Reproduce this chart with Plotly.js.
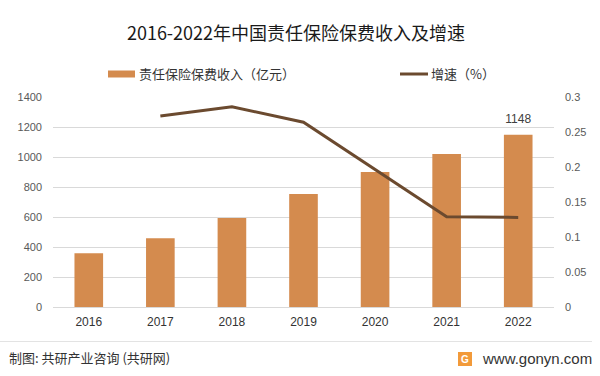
<!DOCTYPE html>
<html>
<head>
<meta charset="utf-8">
<script src="https://cdn.plot.ly/plotly-3.0.1.min.js"></script>
<style>
html,body{margin:0;padding:0;background:#fff;}
#chart{width:600px;height:376px;}
</style>
</head>
<body>
<div id="chart"></div>
<script>
// ---- data ----
const years = ['2016', '2017', '2018', '2019', '2020', '2021', '2022'];
const premium = [359, 459, 593, 753, 900, 1020, 1148];
const growthYears = ['2017', '2018', '2019', '2020', '2021', '2022'];
const growth = [0.273, 0.286, 0.264, 0.197, 0.129, 0.128];
const leftTicks = [0, 200, 400, 600, 800, 1000, 1200, 1400];
const rightTicks = [0, 0.05, 0.1, 0.15, 0.2, 0.25, 0.3];
const rightTickText = ['0', '0.05', '0.1', '0.15', '0.2', '0.25', '0.3'];
const barName = '责任保险保费收入（亿元）';
const lineName = '增速（%）';
const titleText = '2016-2022年中国责任保险保费收入及增速';
const sourceText = '制图: 共研产业咨询 (共研网)';
const siteText = 'www.gonyn.com';

// ---- layout helpers (pixel -> paper) ----
const W = 600, H = 376;
const M = {l: 53, r: 46, t: 97, b: 69};
const PW = W - M.l - M.r, PH = H - M.t - M.b;
const px = x => (x - M.l) / PW;
const py = y => (H - M.b - y) / PH;

const barColor = '#D48B4E';
const lineColor = '#6B4A2F';
const cjk = '"Noto Sans CJK SC", "Noto Sans", sans-serif';
const num = '"Liberation Sans", Arial, sans-serif';

const lastIdx = premium.length - 1;

const traces = [
  {
    type: 'bar', x: years, y: premium, name: barName,
    marker: {color: barColor},
    hoverinfo: 'skip', showlegend: false
  },
  {
    type: 'scatter', mode: 'lines', x: growthYears, y: growth, name: lineName,
    yaxis: 'y2', line: {color: lineColor, width: 3},
    hoverinfo: 'skip', showlegend: false
  },
  {
    type: 'scatter', mode: 'markers+text', x: [years[lastIdx]], y: [premium[lastIdx]],
    text: [String(premium[lastIdx])], textposition: 'top center',
    marker: {size: 12, opacity: 0}, cliponaxis: false,
    textfont: {family: num, size: 12, color: '#404040'},
    hoverinfo: 'skip', showlegend: false
  }
];

const layout = {
  width: W, height: H,
  margin: M,
  paper_bgcolor: '#fff', plot_bgcolor: '#fff',
  bargap: 0.6,
  title: {
    text: titleText, x: 296 / W, xanchor: 'center',
    y: 1 - 34 / H, yanchor: 'middle', yref: 'container',
    font: {family: cjk, size: 18, color: '#1a1a1a', weight: 400}
  },
  xaxis: {
    type: 'category', showgrid: false, zeroline: false, showline: false,
    ticks: '', tickfont: {family: num, size: 12, color: '#333'},
    ticklabelstandoff: 6
  },
  yaxis: {
    range: [0, 1400], tickvals: leftTicks, showgrid: true, gridcolor: '#D9D9D9', gridwidth: 1,
    zeroline: true, zerolinecolor: '#D9D9D9', zerolinewidth: 1, showline: false,
    ticks: '', tickfont: {family: num, size: 11, color: '#595959'}, ticklabelstandoff: 10
  },
  yaxis2: {
    overlaying: 'y', side: 'right', range: [0, 0.3], tickvals: rightTicks, ticktext: rightTickText,
    showgrid: false, zeroline: false, showline: false, ticks: '',
    tickfont: {family: num, size: 11, color: '#595959'}, ticklabelstandoff: 10
  },
  shapes: [
    {type: 'rect', xref: 'paper', yref: 'paper', x0: px(108), x1: px(135), y0: py(77.5), y1: py(70.5),
     fillcolor: barColor, line: {width: 0}},
    {type: 'line', xref: 'paper', yref: 'paper', x0: px(400), x1: px(428), y0: py(74), y1: py(74),
     line: {color: lineColor, width: 3}},
    {type: 'line', xref: 'paper', yref: 'paper', x0: px(0), x1: px(592), y0: py(341.5), y1: py(341.5),
     line: {color: '#E3E3E3', width: 1}},
    {type: 'rect', xref: 'paper', yref: 'paper', x0: px(458), x1: px(472), y0: py(366), y1: py(352),
     fillcolor: '#F29A3A', line: {width: 0}}
  ],
  annotations: [
    {xref: 'paper', yref: 'paper', x: px(137), y: py(74), xanchor: 'left', yanchor: 'middle',
     text: barName, showarrow: false, font: {family: cjk, size: 13, color: '#333'}},
    {xref: 'paper', yref: 'paper', x: px(429), y: py(74), xanchor: 'left', yanchor: 'middle',
     text: lineName, showarrow: false, font: {family: cjk, size: 13, color: '#333'}},
    {xref: 'paper', yref: 'paper', x: px(7), y: py(357), xanchor: 'left', yanchor: 'middle',
     text: sourceText, showarrow: false, font: {family: cjk, size: 13, color: '#333'}},
    {xref: 'paper', yref: 'paper', x: px(465), y: py(359), xanchor: 'center', yanchor: 'middle',
     text: '<b>G</b>', showarrow: false, font: {family: num, size: 10, color: '#fff'}},
    {xref: 'paper', yref: 'paper', x: px(480), y: py(358), xanchor: 'left', yanchor: 'middle',
     text: siteText, showarrow: false, font: {family: num, size: 15, color: '#333'}}
  ]
};

Plotly.newPlot('chart', traces, layout, {displayModeBar: false, staticPlot: true});
</script>
</body>
</html>
